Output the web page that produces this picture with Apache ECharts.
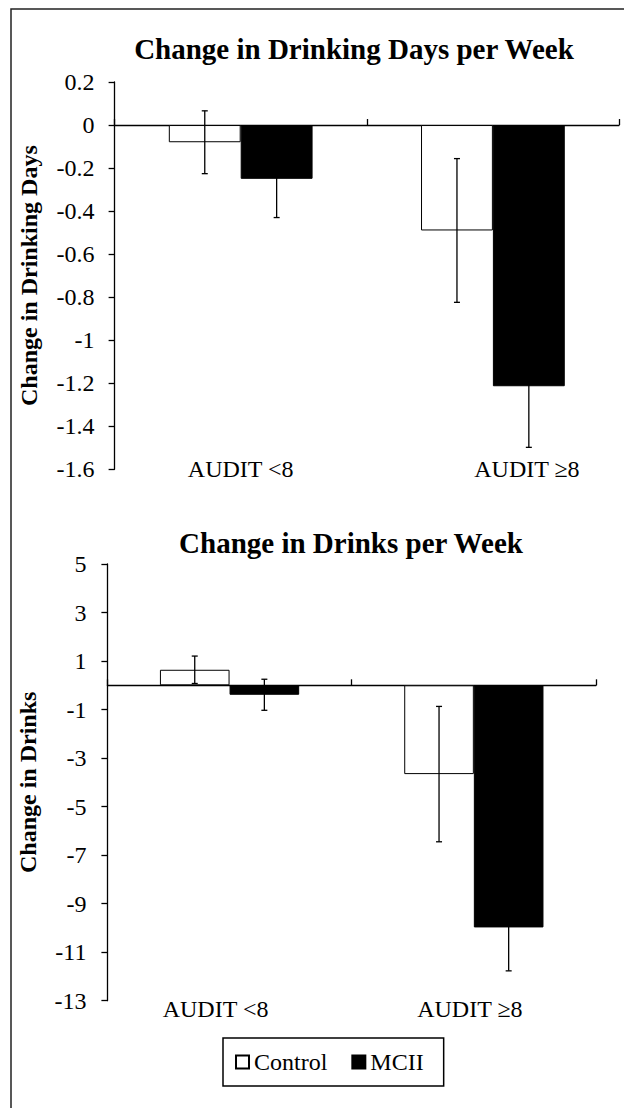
<!DOCTYPE html>
<html><head><meta charset="utf-8">
<script src="https://cdn.jsdelivr.net/npm/echarts@6/dist/echarts.min.js"></script>
<style>html,body{margin:0;padding:0;background:#fff}#c{width:624px;height:1108px}</style>
</head><body><div id="c"></div>
<script>
// ---- data ----
const categories = ['AUDIT <8', 'AUDIT \u22658'];
const seriesNames = ['Control', 'MCII'];
const titles = ['Change in Drinking Days per Week', 'Change in Drinks per Week'];
const yNames = ['Change in Drinking Days', 'Change in Drinks'];
const daysControl = [-0.08, -0.49];
const daysControlErr = [0.146, 0.334];
const daysMCII = [-0.25, -1.214];
const daysMCIIErr = [0.18, 0.284];
const drinksControl = [0.64, -3.66];
const drinksControlErr = [0.565, 2.79];
const drinksMCII = [-0.39, -9.98];
const drinksMCIIErr = [0.64, 1.79];
const daysTicks = [0.2, 0, -0.2, -0.4, -0.6, -0.8, -1, -1.2, -1.4, -1.6];
const drinksTicks = [5, 3, 1, -1, -3, -5, -7, -9, -11, -13];

const FONT = 'Liberation Serif';
const GAP = 0.43;
const chart = echarts.init(document.getElementById('c'), null, {renderer: 'svg'});

function errRender(side) {
  return function (params, api) {
    const cat = api.value(0), mean = api.value(1), err = api.value(2);
    const band = api.size([1, 0])[0];
    const bw = band * (1 - GAP) / 2;
    const x = api.coord([cat, 0])[0] + side * bw / 2;
    const yTop = api.coord([cat, mean + err])[1];
    const yBot = api.coord([cat, mean - err])[1];
    const cap = 3;
    const style = {stroke: '#000', lineWidth: 1.3};
    return {type: 'group', children: [
      {type: 'line', shape: {x1: x, y1: yTop, x2: x, y2: yBot}, style: style},
      {type: 'line', shape: {x1: x - cap, y1: yTop, x2: x + cap, y2: yTop}, style: style},
      {type: 'line', shape: {x1: x - cap, y1: yBot, x2: x + cap, y2: yBot}, style: style}
    ]};
  };
}
function errData(mean, err) { return categories.map((c, i) => [i, mean[i], err[i]]); }

const axisLineStyle = {color: '#000', width: 1.3};
function labelRich(shifts) {
  const rich = {};
  shifts.forEach((s, i) => {
    rich['c' + i] = {fontFamily: FONT, fontSize: 24, color: '#000',
      padding: s >= 0 ? [0, 0, 0, 2 * s] : [0, -2 * s, 0, 0]};
  });
  return rich;
}

function yAxisDef(grid, ticks, name, nameGap, margin) {
  return {
    type: 'value', gridIndex: grid,
    min: ticks[ticks.length - 1], max: ticks[0],
    interval: Math.abs(ticks[0] - ticks[1]),
    name: name, nameLocation: 'middle', nameGap: nameGap, nameRotate: 90,
    nameTextStyle: {fontFamily: FONT, fontSize: 24, fontWeight: 'bold', color: '#000'},
    axisLine: {show: true, lineStyle: axisLineStyle},
    axisTick: {show: true, length: 6, inside: false, lineStyle: axisLineStyle, customValues: ticks},
    axisLabel: {fontFamily: FONT, fontSize: 24, color: '#000', margin: margin, customValues: ticks},
    splitLine: {show: false}
  };
}

const option = {
  animation: false,
  backgroundColor: '#fff',
  title: [
    {text: titles[0], left: 354, top: 49, textAlign: 'center', textVerticalAlign: 'middle', padding: 0,
     textStyle: {fontFamily: FONT, fontSize: 29, fontWeight: 'bold', color: '#000'}},
    {text: titles[1], left: 351, top: 543, textAlign: 'center', textVerticalAlign: 'middle', padding: 0,
     textStyle: {fontFamily: FONT, fontSize: 29, fontWeight: 'bold', color: '#000'}}
  ],
  legend: {
    data: seriesNames, left: 223, top: 1038, orient: 'horizontal',
    padding: [12, 20, 12, 12], itemGap: 24, itemWidth: 13, itemHeight: 13, icon: 'rect',
    borderColor: '#000', borderWidth: 1.5,
    textStyle: {fontFamily: FONT, fontSize: 24, color: '#000'}
  },
  graphic: [{type: 'rect', shape: {x: 11, y: 9, width: 800, height: 1300}, silent: true,
    style: {fill: 'none', stroke: '#222', lineWidth: 1.5}}],
  grid: [
    {left: 114.6, right: 5, top: 82, bottom: 638.7},
    {left: 107.4, right: 28, top: 564, bottom: 107.3}
  ],
  xAxis: [
    {type: 'category', gridIndex: 0, data: categories, position: 'bottom',
     axisLine: {show: false, onZero: false}, axisTick: {show: false},
     axisLabel: {margin: 0, verticalAlign: 'middle', formatter: (v, i) => '{c' + i + '|' + v + '}', rich: labelRich([0, 34])}},
    {type: 'category', gridIndex: 0, data: categories,
     axisLine: {show: true, onZero: true, lineStyle: axisLineStyle},
     axisTick: {show: true, length: 6, lineStyle: axisLineStyle}, axisLabel: {show: false}},
    {type: 'category', gridIndex: 1, data: categories, position: 'bottom',
     axisLine: {show: false, onZero: false}, axisTick: {show: false},
     axisLabel: {margin: 8, verticalAlign: 'middle', formatter: (v, i) => '{c' + i + '|' + v + '}', rich: labelRich([-14, -4])}},
    {type: 'category', gridIndex: 1, data: categories,
     axisLine: {show: true, onZero: true, lineStyle: axisLineStyle},
     axisTick: {show: true, length: 6, lineStyle: axisLineStyle}, axisLabel: {show: false}}
  ],
  yAxis: [
    yAxisDef(0, daysTicks, yNames[0], 74, 20),
    yAxisDef(1, drinksTicks, yNames[1], 67, 21)
  ],
  series: [
    {name: seriesNames[0], type: 'bar', xAxisIndex: 0, yAxisIndex: 0, data: daysControl,
     barGap: '0%', barCategoryGap: '43%', itemStyle: {color: '#fff', borderColor: '#000', borderWidth: 1}},
    {name: seriesNames[1], type: 'bar', xAxisIndex: 0, yAxisIndex: 0, data: daysMCII,
     barGap: '0%', barCategoryGap: '43%', itemStyle: {color: '#000', borderColor: '#000', borderWidth: 1}},
    {name: seriesNames[0], type: 'bar', xAxisIndex: 2, yAxisIndex: 1, data: drinksControl,
     barGap: '0%', barCategoryGap: '43%', itemStyle: {color: '#fff', borderColor: '#000', borderWidth: 1}},
    {name: seriesNames[1], type: 'bar', xAxisIndex: 2, yAxisIndex: 1, data: drinksMCII,
     barGap: '0%', barCategoryGap: '43%', itemStyle: {color: '#000', borderColor: '#000', borderWidth: 1}},
    {name: 'errDaysControl', type: 'custom', xAxisIndex: 0, yAxisIndex: 0, z: 5,
     renderItem: errRender(-1), data: errData(daysControl, daysControlErr)},
    {name: 'errDaysMCII', type: 'custom', xAxisIndex: 0, yAxisIndex: 0, z: 5,
     renderItem: errRender(1), data: errData(daysMCII, daysMCIIErr)},
    {name: 'errDrinksControl', type: 'custom', xAxisIndex: 2, yAxisIndex: 1, z: 5,
     renderItem: errRender(-1), data: errData(drinksControl, drinksControlErr)},
    {name: 'errDrinksMCII', type: 'custom', xAxisIndex: 2, yAxisIndex: 1, z: 5,
     renderItem: errRender(1), data: errData(drinksMCII, drinksMCIIErr)}
  ]
};
chart.setOption(option);
</script></body></html>
